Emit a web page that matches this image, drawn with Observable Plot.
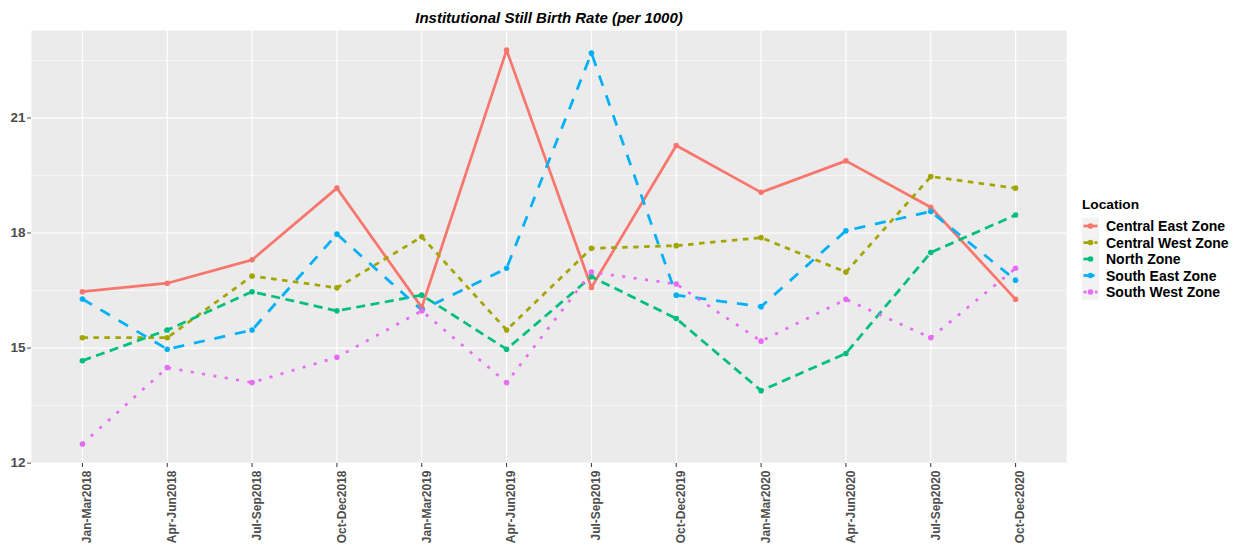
<!DOCTYPE html>
<html><head><meta charset="utf-8">
<script src="https://cdn.jsdelivr.net/npm/d3@7"></script>
<script src="https://cdn.jsdelivr.net/npm/@observablehq/plot@0.6"></script>
<style>
body{margin:0;background:#fff;font-family:"Liberation Sans",Arial,sans-serif;}
#wrap{position:relative;width:1234px;height:545px;}
#wrap svg{position:absolute;left:0;top:0;}
</style></head><body><div id="wrap"></div>
<script>
const quarters = ["Jan-Mar2018","Apr-Jun2018","Jul-Sep2018","Oct-Dec2018","Jan-Mar2019","Apr-Jun2019","Jul-Sep2019","Oct-Dec2019","Jan-Mar2020","Apr-Jun2020","Jul-Sep2020","Oct-Dec2020"];
const zones = ["Central East Zone","Central West Zone","North Zone","South East Zone","South West Zone"];
const centralEast = [16.47,16.69,17.3,19.17,16.06,22.77,16.58,20.28,19.06,19.88,18.67,16.27];
const centralWest = [15.27,15.27,16.88,16.57,17.9,15.47,17.6,17.67,17.88,16.98,19.47,19.17];
const north = [14.67,15.47,16.47,15.97,16.38,14.97,16.86,15.77,13.89,14.86,17.49,18.47];
const southEast = [16.28,14.97,15.47,17.97,15.99,17.08,22.69,16.38,16.08,18.06,18.56,16.77];
const southWest = [12.5,14.49,14.1,14.76,15.97,14.1,16.98,16.67,15.18,16.27,15.27,17.08];
const yTicks = [12,15,18,21];
const yMinor = [13.5,16.5,19.5,22.5];
const colors = ["#F8766D","#A3A500","#00BF7D","#00B0F6","#E76BF3"];
const dashes = ["none","5.5,5.5","9,5.5","11,10","3,8.5"];
const titleText = "Institutional Still Birth Rate (per 1000)";
const legendTitle = "Location";

const series = [centralEast, centralWest, north, southEast, southWest];
const data = [];
series.forEach((vals, i) => vals.forEach((v, j) => data.push({zone: zones[i], quarter: quarters[j], value: v})));

const lw = 2.75;
const marks = [
  Plot.frame({fill: "#EBEBEB", stroke: "none"}),
  Plot.gridY(yMinor, {stroke: "white", strokeOpacity: 1, strokeWidth: 0.6}),
  Plot.gridY(yTicks, {stroke: "white", strokeOpacity: 1, strokeWidth: 1.2}),
  Plot.gridX(quarters, {stroke: "white", strokeOpacity: 1, strokeWidth: 1.2}),
];
zones.forEach((z, i) => {
  marks.push(Plot.line(data.filter(d => d.zone === z), {x: "quarter", y: "value", stroke: colors[i], strokeWidth: lw, strokeDasharray: dashes[i], strokeLinecap: "butt", strokeLinejoin: "round"}));
});
marks.push(
  Plot.dot(data, {x: "quarter", y: "value", fill: "zone", r: 2.8}),
  Plot.axisY({ticks: yTicks, tickSize: 4, tickPadding: 2, fontSize: 13.5, fontWeight: "bold", color: "#4D4D4D", label: null}),
  Plot.axisX({tickSize: 4, tickFormat: () => "", color: "#333333", label: null}),
  Plot.axisX({tickRotate: -90, tickSize: 0, tickPadding: 7, dx: 5, fontSize: 12, fontWeight: "bold", color: "#4D4D4D", label: null}),
  Plot.text([titleText], {frameAnchor: "top", dy: -7.5, lineAnchor: "bottom", fontSize: 15, fontWeight: "bold", fontStyle: "italic", fill: "black"})
);

const chart = Plot.plot({
  width: 1234, height: 545,
  marginLeft: 31, marginRight: 168, marginTop: 30, marginBottom: 82,
  style: {fontFamily: "'Liberation Sans', Arial, sans-serif", background: "white", overflow: "visible"},
  x: {type: "point", domain: quarters, padding: 0.6, round: false},
  y: {domain: [11.99, 23.28]},
  color: {domain: zones, range: colors},
  marks
});
document.getElementById("wrap").appendChild(chart);

// Legend
const lg = d3.select("#wrap").append("svg").attr("width", 1234).attr("height", 545)
  .style("font-family", "'Liberation Sans', Arial, sans-serif");
lg.append("text").attr("x", 1082).attr("y", 209).attr("font-size", 13.7).attr("font-weight", "bold").attr("fill", "black").text(legendTitle);
zones.forEach((z, i) => {
  const cy = 226 + i * 16.5;
  const g = lg.append("g");
  g.append("rect").attr("x", 1082).attr("y", cy - 8.25).attr("width", 17).attr("height", 16.5).attr("fill", "#F2F2F2");
  g.append("line").attr("x1", 1083.5).attr("x2", 1097.5).attr("y1", cy).attr("y2", cy)
    .attr("stroke", colors[i]).attr("stroke-width", lw).attr("stroke-dasharray", dashes[i]);
  g.append("circle").attr("cx", 1090.5).attr("cy", cy).attr("r", 2.8).attr("fill", colors[i]);
  g.append("text").attr("x", 1106).attr("y", cy).attr("dy", "0.36em").attr("font-size", 14).attr("font-weight", "bold").attr("fill", "black").text(z);
});
</script></body></html>
